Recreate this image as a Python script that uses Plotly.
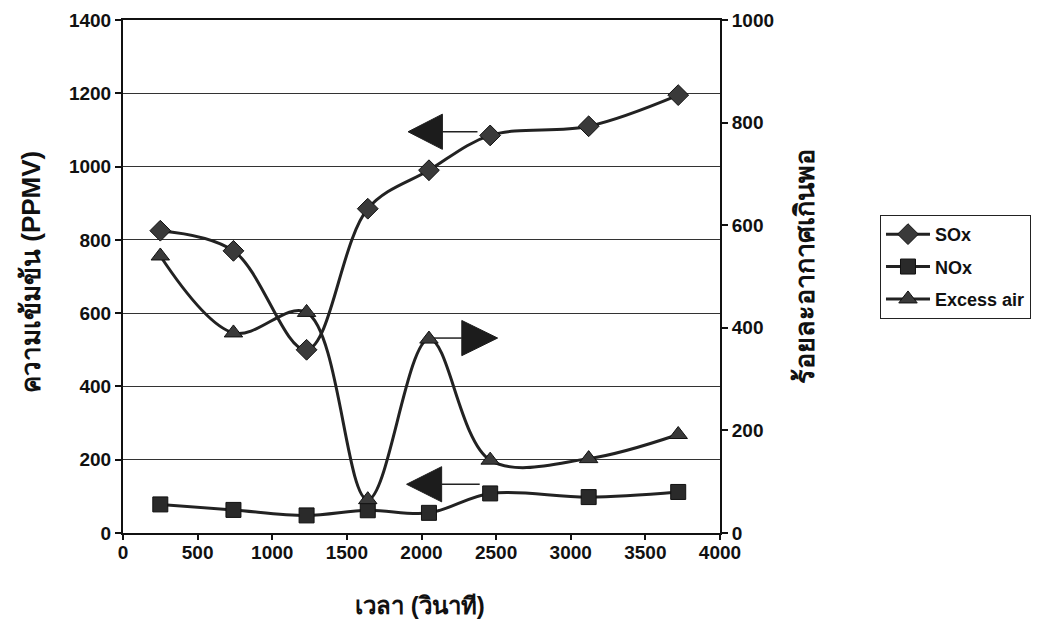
import plotly.graph_objects as go

# Measurement times (seconds)
time_s = [250, 740, 1230, 1640, 2050, 2460, 3120, 3720]

# Flue-gas concentrations (PPMV), left axis
sox_ppmv = [825, 770, 500, 885, 990, 1085, 1110, 1195]
nox_ppmv = [78, 63, 48, 62, 55, 108, 98, 112]

# Percent excess air, right axis
excess_air_pct = [540, 390, 430, 65, 378, 142, 145, 192]

# Pointer arrows telling which axis a curve belongs to (left-axis units)
arrow_tip_x = [1910, 2510, 1900]
arrow_base_x = [2140, 2270, 2135]
arrow_tail_x = [2375, 2065, 2390]
arrow_y = [1095, 532, 133]
arrow_half_h = 48

FONT = "Liberation Sans, Arial, sans-serif"
INK = "#222222"

fig = go.Figure()

fig.add_trace(go.Scatter(
    x=time_s, y=sox_ppmv, name="SOx", mode="lines+markers", legendgroup="sox",
    line=dict(color=INK, width=3, shape="spline"),
    marker=dict(symbol="diamond", size=16, color="#3a3a3a", line=dict(color="#111", width=1)),
))
fig.add_trace(go.Scatter(
    x=time_s, y=nox_ppmv, name="NOx", mode="lines+markers", legendgroup="nox",
    line=dict(color=INK, width=3, shape="spline"),
    marker=dict(symbol="square", size=15, color="#2a2a2a", line=dict(color="#111", width=1)),
))
fig.add_trace(go.Scatter(
    x=time_s, y=excess_air_pct, name="Excess air", mode="lines+markers", yaxis="y2",
    legendgroup="air",
    line=dict(color=INK, width=3, shape="spline"),
    marker=dict(symbol="triangle-up", size=16, color="#3a3a3a", line=dict(color="#111", width=1)),
))

for tip, base, tail, yc in zip(arrow_tip_x, arrow_base_x, arrow_tail_x, arrow_y):
    fig.add_trace(go.Scatter(
        x=[base, tail], y=[yc, yc], mode="lines",
        line=dict(color=INK, width=1.5), showlegend=False, hoverinfo="skip",
    ))
    fig.add_trace(go.Scatter(
        x=[tip, base, base, tip], y=[yc, yc + arrow_half_h, yc - arrow_half_h, yc],
        mode="lines", fill="toself", fillcolor="#1c1c1c",
        line=dict(color="#1c1c1c", width=1), showlegend=False, hoverinfo="skip",
    ))

tick_font = dict(family=FONT, size=19, color="#111", weight="bold")

# Axis titles placed as paper-anchored annotations
fig.add_annotation(
    text="ความเข้มข้น (PPMV)", xref="paper", yref="paper",
    x=-0.154, y=0.509, xanchor="center", yanchor="middle",
    textangle=-90, showarrow=False,
    font=dict(family=FONT, size=26, color="#111", weight="bold"),
)
fig.add_annotation(
    text="ร้อยละอากาศเกินพอ", xref="paper", yref="paper",
    x=1.142, y=0.52, xanchor="center", yanchor="middle",
    textangle=-90, showarrow=False,
    font=dict(family=FONT, size=27, color="#111", weight="bold"),
)
fig.add_annotation(
    text="เวลา (วินาที)", xref="paper", yref="paper",
    x=0.4975, y=-0.1404, xanchor="center", yanchor="middle",
    showarrow=False,
    font=dict(family=FONT, size=24, color="#111", weight="bold"),
)

fig.update_layout(
    width=1037, height=627,
    margin=dict(l=123, r=317, t=20, b=94, autoexpand=False),
    paper_bgcolor="white", plot_bgcolor="white",
    showlegend=True,
    legend=dict(
        x=1.268, y=0.62, xanchor="left", yanchor="top",
        bgcolor="white", bordercolor="#222", borderwidth=1,
        font=dict(family=FONT, size=18, color="#111", weight="bold"),
        traceorder="grouped", tracegroupgap=6, itemwidth=44,
    ),
    xaxis=dict(
        range=[0, 4000], dtick=500, tick0=0, automargin=False,
        showgrid=False, zeroline=False,
        showline=True, linecolor="#111", linewidth=2, mirror=True,
        ticks="outside", ticklen=5, tickcolor="#111", tickwidth=1.5,
        ticklabelstandoff=-4,
        tickfont=tick_font,
    ),
    yaxis=dict(
        range=[0, 1400], dtick=200, tick0=0, automargin=False,
        showgrid=True, gridcolor="#333", gridwidth=1, zeroline=False,
        showline=True, linecolor="#111", linewidth=2,
        ticks="outside", ticklen=6, tickcolor="#111", tickwidth=1.5,
        tickfont=tick_font,
    ),
    yaxis2=dict(
        range=[0, 1000], dtick=200, tick0=0, automargin=False,
        overlaying="y", side="right",
        showgrid=False, zeroline=False,
        showline=True, linecolor="#111", linewidth=2,
        ticks="outside", ticklen=6, tickcolor="#111", tickwidth=1.5,
        tickfont=tick_font,
    ),
)

fig.write_html("out.html")
